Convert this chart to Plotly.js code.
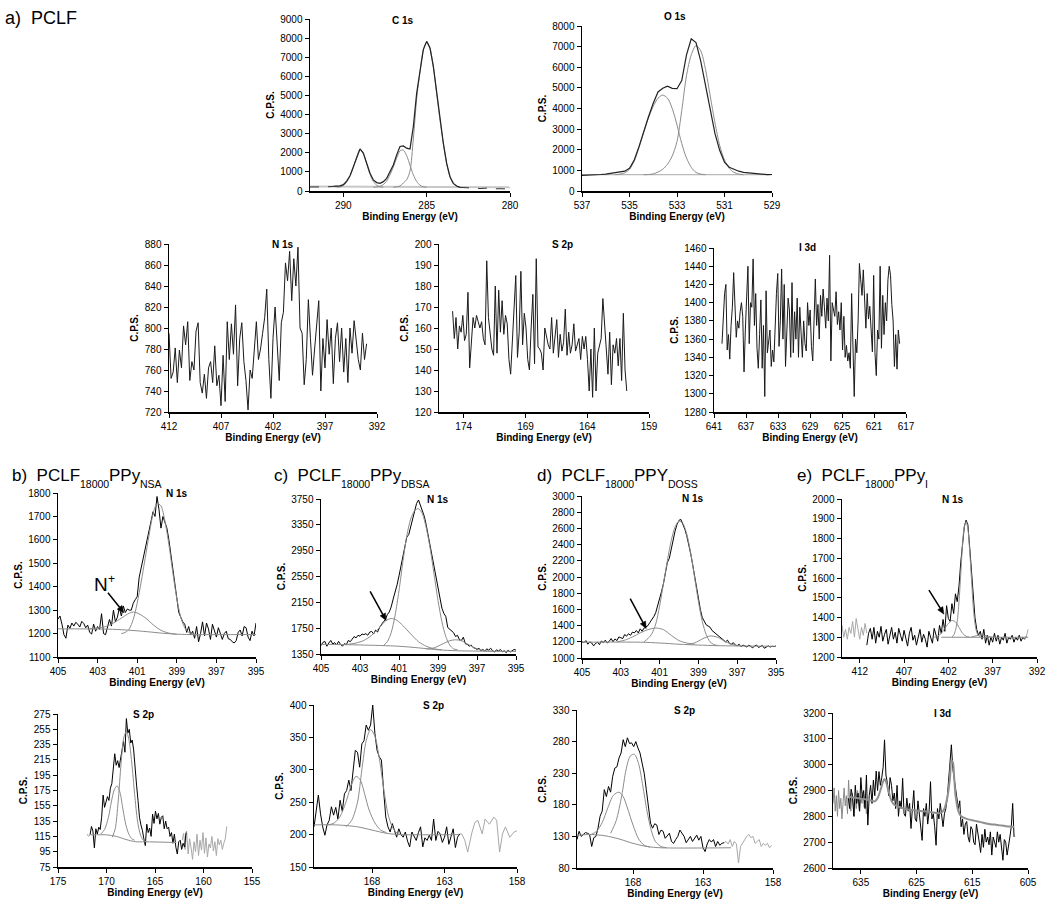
<!DOCTYPE html>
<html><head><meta charset="utf-8">
<script src="https://cdn.plot.ly/plotly-3.0.1.min.js"></script>
<style>html,body{margin:0;padding:0;background:#fff}#chart{width:1050px;height:912px}</style>
</head><body><div id="chart"></div>
<script>
// ===================== DATA (binding energy eV, counts per second) =====================
// --- a) PCLF  C 1s ---
const c1sRange = [290.6, 283.0];
const c1sCps = [240,260,270,330,520,800,1250,1800,2200,1980,1450,930,580,440,400,490,660,1010,1360,1890,2330,2360,2240,2200,3370,5120,6350,7400,7830,7480,6520,5120,3720,2500,1450,750,400,260,190];
const c1sTailLeft = [[292,210],[291.7,200],[291.4,190],[291.1,215],[290.8,230],[290.6,240]];
const c1sTailRight = [[283.0,190],[282.6,170],[282.2,150],[281.8,130],[281.4,150],[281.0,110],[280.6,120],[280.2,90],[280.0,100]];
const c1sPeakA = [[290.4,200],[290.2,215],[290.0,280],[289.8,470],[289.6,780],[289.4,1230],[289.2,1780],[289.0,2180],[288.8,1960],[288.6,1420],[288.4,880],[288.2,500],[288.0,300],[287.8,220],[287.6,200]];
const c1sPeakB = [[288.2,200],[288.0,210],[287.8,250],[287.6,340],[287.4,520],[287.2,850],[287.0,1250],[286.8,1720],[286.6,2100],[286.4,2140],[286.2,1850],[286.0,1350],[285.8,850],[285.6,500],[285.4,300],[285.2,220],[285.0,200]];
const c1sPeakC = [[287.0,200],[286.6,260],[286.4,420],[286.2,590],[286.0,1050],[285.8,2720],[285.6,4820],[285.4,6250],[285.2,7380],[285.0,7800],[284.8,7460],[284.6,6500],[284.4,5100],[284.2,3700],[284.0,2480],[283.8,1430],[283.6,740],[283.4,390],[283.2,250],[283.0,200]];
const c1sBackground = [[292,230],[286,215],[280,190]];

// --- a) PCLF  O 1s ---
const o1sRange = [537, 529];
const o1sCps = [760,770,750,780,800,820,850,880,900,960,1100,1500,2150,2900,3600,4250,4800,4980,5080,4980,4960,5350,6600,7380,7200,6300,5150,3900,2780,1960,1400,1150,1040,960,900,880,860,850,800,790,800];
const o1sPeakA = [[535.6,790],[535.4,820],[535.2,880],[535.0,1050],[534.8,1450],[534.6,2100],[534.4,2850],[534.2,3550],[534.0,4100],[533.8,4500],[533.6,4650],[533.4,4500],[533.2,4000],[533.0,3200],[532.8,2300],[532.6,1600],[532.4,1150],[532.2,900],[532.0,820],[531.8,790]];
const o1sPeakB = [[534.4,790],[534.2,800],[534.0,830],[533.8,920],[533.6,1050],[533.4,1300],[533.2,1700],[533.0,2400],[532.8,3900],[532.6,5600],[532.4,6600],[532.2,7050],[532.0,6800],[531.8,5900],[531.6,4600],[531.4,3300],[531.2,2200],[531.0,1500],[530.8,1100],[530.6,900],[530.4,820],[530.2,790]];
const o1sBackground = [[537,790],[529,790]];

// --- a) PCLF  N 1s ---
const pclfN1sRange = [412, 393];
const pclfN1sCps = [795,752,758,781,748,779,762,802,784,806,750,768,760,797,805,748,738,756,733,762,768,748,783,745,755,726,774,730,806,770,804,775,822,745,790,805,768,750,722,760,752,775,806,770,780,795,810,837,770,733,790,820,790,750,805,815,862,845,873,826,866,840,877,800,795,746,770,827,790,755,780,800,826,740,790,762,808,775,800,747,790,805,768,800,758,790,748,800,776,807,786,770,760,795,770,785];

// --- a) PCLF  S 2p ---
const pclfS2pRange = [174.9, 160.8];
const pclfS2pCps = [168,155,165,150,161,158,166,154,157,177,141,152,165,160,166,163,160,163,155,152,192,165,157,150,147,180,148,178,158,173,157,166,162,145,138,155,172,185,146,158,187,152,167,160,145,140,160,176,143,193,151,150,148,140,160,155,152,150,165,148,157,164,146,157,149,153,169,147,158,148,152,162,149,152,155,145,156,150,156,145,130,150,127,160,130,148,152,155,174,160,150,138,158,133,152,148,155,142,155,135,167,140,130];

// --- a) PCLF  I 3d ---
const pclfI3dRange = [640.0, 617.8];
const pclfI3dCps = [1355,1390,1410,1420,1348,1365,1338,1375,1395,1433,1400,1362,1380,1372,1390,1400,1385,1324,1370,1398,1440,1355,1400,1395,1448,1375,1410,1350,1328,1365,1403,1328,1375,1297,1413,1345,1360,1370,1330,1348,1335,1385,1410,1432,1352,1380,1437,1360,1420,1330,1365,1405,1392,1340,1422,1345,1390,1360,1405,1340,1395,1365,1340,1380,1355,1347,1400,1375,1392,1352,1336,1380,1426,1375,1398,1360,1408,1385,1415,1395,1372,1405,1380,1452,1336,1400,1393,1385,1412,1376,1390,1370,1400,1348,1385,1340,1353,1336,1345,1328,1410,1362,1297,1360,1345,1380,1443,1425,1408,1436,1395,1372,1410,1382,1396,1365,1346,1430,1345,1320,1370,1360,1440,1350,1408,1365,1400,1380,1425,1440,1430,1398,1380,1330,1365,1327,1370,1355];

// --- b) PCLF18000PPyNSA  N 1s ---
const nsaN1sRange = [405, 395];
const nsaN1sCps = [1262,1275,1240,1195,1180,1236,1222,1245,1232,1248,1240,1228,1252,1243,1225,1236,1205,1198,1240,1210,1230,1218,1285,1200,1195,1226,1260,1232,1300,1250,1270,1310,1275,1318,1290,1305,1300,1300,1329,1345,1357,1440,1480,1520,1560,1600,1640,1680,1720,1700,1785,1730,1650,1700,1670,1650,1600,1540,1470,1400,1340,1290,1270,1250,1240,1205,1230,1195,1210,1180,1230,1165,1200,1250,1190,1245,1220,1175,1240,1215,1185,1225,1195,1175,1200,1210,1178,1175,1165,1160,1170,1205,1215,1190,1230,1225,1185,1170,1210,1190,1245];
const nsaN1sMain = [[401.8,1200],[401.6,1205],[401.4,1220],[401.2,1260],[401.0,1330],[400.8,1420],[400.6,1520],[400.4,1620],[400.2,1710],[400.0,1755],[399.8,1745],[399.6,1680],[399.4,1580],[399.2,1460],[399.0,1350],[398.8,1270],[398.6,1225],[398.4,1205],[398.2,1198],[398.0,1197]];
const nsaN1sNplus = [[403.4,1221],[403.0,1224],[402.6,1230],[402.2,1245],[401.8,1266],[401.4,1287],[401.2,1292],[401.0,1288],[400.6,1268],[400.2,1238],[399.8,1214],[399.4,1202],[399.0,1197]];
const nsaN1sBackground = [[405,1220],[402.5,1219],[401.5,1215],[400.5,1208],[399.5,1200],[398.5,1196],[395,1196]];

// --- c) PCLF18000PPyDBSA  N 1s ---
const dbsaN1sRange = [405, 395];
const dbsaN1sCps = [1480,1530,1545,1470,1520,1560,1505,1525,1490,1545,1500,1470,1510,1495,1560,1540,1580,1620,1600,1640,1625,1660,1650,1665,1640,1690,1700,1660,1720,1690,1760,1810,1850,1880,1960,2000,2080,2200,2300,2420,2560,2700,2850,3000,3160,3200,3330,3450,3560,3680,3735,3650,3580,3480,3340,3180,3050,2880,2700,2520,2360,2200,2060,1980,1930,1760,1730,1700,1680,1620,1640,1570,1560,1610,1510,1500,1470,1490,1450,1440,1420,1440,1400,1420,1395,1430,1410,1440,1400,1380,1415,1395,1420,1385,1400,1370,1410,1380,1400,1420,1410];
const dbsaN1sMain = [[401.8,1480],[401.6,1540],[401.4,1680],[401.2,1950],[401.0,2330],[400.8,2780],[400.6,3180],[400.4,3440],[400.2,3570],[400.0,3600],[399.8,3520],[399.6,3300],[399.4,2980],[399.2,2580],[399.0,2180],[398.8,1850],[398.6,1620],[398.4,1490],[398.2,1430],[398.0,1415]];
const dbsaN1sNplus = [[403.6,1500],[403.2,1520],[402.8,1560],[402.4,1640],[402.0,1760],[401.7,1860],[401.4,1900],[401.1,1870],[400.8,1790],[400.4,1660],[400.0,1540],[399.6,1470],[399.2,1430],[398.8,1415]];
const dbsaN1sLow = [[399.6,1425],[399.2,1445],[398.8,1500],[398.4,1555],[398.1,1570],[397.8,1555],[397.4,1490],[397.0,1430],[396.6,1400],[396.2,1392]];
const dbsaN1sBackground = [[405,1500],[403,1490],[401,1470],[400,1445],[399,1415],[398,1400],[397,1395],[395,1390]];

// --- d) PCLF18000PPYDOSS  N 1s ---
const dossN1sRange = [405, 395];
const dossN1sCps = [1200,1190,1215,1170,1200,1185,1150,1180,1195,1165,1210,1190,1220,1185,1205,1240,1200,1235,1215,1260,1250,1240,1290,1270,1300,1280,1320,1310,1340,1310,1360,1330,1370,1390,1400,1440,1470,1510,1560,1640,1730,1820,1920,2060,2180,2230,2360,2480,2570,2650,2700,2710,2660,2590,2510,2410,2290,2160,2020,1870,1720,1600,1500,1450,1410,1395,1380,1340,1320,1290,1270,1250,1240,1210,1200,1220,1180,1170,1190,1160,1150,1170,1140,1160,1150,1135,1160,1145,1125,1150,1160,1130,1145,1155,1120,1140,1150,1135,1145,1140,1148];
const dossN1sMain = [[401.8,1200],[401.6,1240],[401.4,1300],[401.2,1420],[401.0,1640],[400.8,1920],[400.6,2200],[400.4,2450],[400.2,2620],[400.0,2690],[399.8,2660],[399.6,2530],[399.4,2300],[399.2,2000],[399.0,1700],[398.8,1450],[398.6,1290],[398.4,1200],[398.2,1165],[398.0,1155]];
const dossN1sNplus = [[403.2,1200],[402.8,1220],[402.4,1260],[402.0,1310],[401.6,1350],[401.2,1370],[400.8,1350],[400.4,1280],[400.0,1215],[399.6,1185],[399.2,1172]];
const dossN1sLow = [[399.6,1168],[399.2,1185],[398.8,1235],[398.4,1272],[398.0,1255],[397.6,1200],[397.2,1165],[396.8,1150]];
const dossN1sBackground = [[405,1195],[402,1195],[401,1185],[400,1170],[399,1160],[398,1152],[395,1145]];

// --- e) PCLF18000PPyI  N 1s ---
const iN1sEdgeRange = [414, 411.2];
const iN1sEdgeCps = [1360,1300,1340,1290,1350,1320,1380,1300,1395,1330,1290,1350,1310,1370,1320];
const iN1sRange = [411.2, 393.2];
const iN1sCps = [1260,1320,1345,1290,1350,1270,1330,1300,1355,1280,1315,1340,1265,1300,1350,1290,1325,1270,1345,1310,1280,1335,1295,1255,1320,1350,1285,1310,1260,1300,1340,1275,1315,1290,1250,1330,1300,1270,1345,1310,1280,1360,1320,1390,1330,1460,1395,1380,1470,1420,1520,1480,1560,1680,1780,1860,1893,1870,1760,1640,1500,1400,1340,1310,1330,1290,1340,1270,1310,1260,1300,1275,1320,1280,1310,1265,1300,1285,1320,1270,1300,1290,1310,1275,1300,1285,1310,1280,1300,1290,1305];
const iN1sTail = [[393.4,1290],[393.2,1305],[393.0,1340]];
const iN1sMain = [[401.6,1302],[401.4,1310],[401.2,1335],[401.0,1380],[400.8,1480],[400.6,1620],[400.4,1770],[400.2,1860],[400.0,1885],[399.8,1850],[399.6,1740],[399.4,1600],[399.2,1460],[399.0,1370],[398.8,1325],[398.6,1308],[398.4,1302]];
const iN1sNplus = [[403.6,1300],[403.2,1305],[402.8,1320],[402.4,1345],[402.0,1370],[401.6,1385],[401.2,1378],[400.8,1350],[400.4,1320],[400.0,1305],[399.6,1300]];
const iN1sLow = [[399.4,1301],[398.8,1308],[398.2,1312],[397.6,1306],[397.0,1300]];
const iN1sBackground = [[402.8,1300],[393.0,1300]];

// --- b) NSA  S 2p ---
const nsaS2pRange = [171.7, 161.8];
const nsaS2pCps = [117,128,122,100,125,118,127,124,140,169,153,160,167,162,178,184,200,223,208,214,205,218,230,239,225,269,250,255,237,241,228,200,182,162,140,130,123,112,103,131,120,126,115,144,132,148,138,145,131,140,142,125,135,125,127,115,120,106,118,101,92,108,110,98,106,101,120];
const nsaS2pEdge = [[172.0,118],[171.85,115],[171.7,117]];
const nsaS2pTailRange = [162.2, 157.6];
const nsaS2pTailCps = [110,119,98,122,92,112,100,85,108,95,118,90,110,97,120,93,113,88,105,100,115,96,108,90,112,104,110,98,106,112,128];
const nsaS2pBig = [[169.4,114],[169.1,125],[168.8,160],[168.5,210],[168.2,245],[167.95,252],[167.7,242],[167.4,212],[167.1,170],[166.8,135],[166.5,117],[166.2,110],[165.9,108]];
const nsaS2pSmall = [[170.6,118],[170.2,124],[169.8,140],[169.5,160],[169.2,176],[168.9,181],[168.6,172],[168.3,150],[168.0,130],[167.7,118],[167.4,112],[167.1,110]];
const nsaS2pBackground = [[171.6,117],[170.0,117],[169.0,115],[168.0,111],[167.0,108],[166.0,108],[162.8,107]];

// --- c) DBSA  S 2p ---
const dbsaS2pRange = [172.0, 161.95];
const dbsaS2pCps = [212,240,261,232,212,199,215,222,243,230,242,224,253,236,263,268,284,268,299,330,327,304,340,345,369,361,369,400,356,330,320,315,268,227,212,204,217,205,196,209,200,196,204,190,181,204,196,191,203,212,181,195,191,199,191,224,191,205,201,188,196,212,185,199,209,180,196,201];
const dbsaS2pTail = [[161.95,201],[161.8,201],[161.6,191],[161.4,173],[161.1,204],[160.9,219],[160.7,222],[160.4,201],[160.2,224],[159.9,216],[159.6,227],[159.4,222],[159.2,173],[159.0,201],[158.8,212],[158.5,196],[158.2,204],[158.0,206]];
const dbsaS2pBig = [[169.8,212],[169.4,222],[169.0,250],[168.7,300],[168.4,345],[168.1,362],[167.8,352],[167.5,318],[167.2,272],[166.9,232],[166.6,212],[166.3,203],[166.0,200]];
const dbsaS2pSmall = [[171.0,215],[170.6,218],[170.2,228],[169.8,250],[169.4,278],[169.1,290],[168.8,284],[168.5,262],[168.2,238],[167.8,218],[167.4,207],[167.0,203]];
const dbsaS2pBackground = [[172.0,215],[170.5,215],[169.0,212],[168.0,207],[167.0,202],[166.0,200],[162.0,200]];

// --- d) DOSS  S 2p ---
const dossS2pRange = [172.0, 161.5];
const dossS2pCps = [125,138,130,133,136,135,133,114,128,130,143,162,170,204,193,209,200,225,238,240,254,262,283,272,286,277,278,272,280,270,262,246,230,204,177,151,143,150,148,133,140,138,127,132,135,122,119,125,130,140,135,130,120,125,130,122,127,132,124,130,112,106,118,125,121,125,114,122,116,119,120];
const dossS2pTailRange = [161.5, 158.1];
const dossS2pTailCps = [120,122,118,125,114,122,118,88,114,120,125,130,133,128,130,119,122,125,114,119,116,119,112,116];
const dossS2pBig = [[169.6,135],[169.2,155],[168.8,195],[168.5,235],[168.2,257],[167.9,260],[167.6,245],[167.3,210],[167.0,170],[166.7,140],[166.4,122],[166.0,114],[165.6,112]];
const dossS2pSmall = [[171.0,133],[170.6,138],[170.2,152],[169.8,175],[169.4,195],[169.0,200],[168.7,193],[168.4,175],[168.0,148],[167.6,126],[167.2,116],[166.8,113]];
const dossS2pBackground = [[172,132],[171,133],[170,131],[169,126],[168,119],[167,114],[166,112],[161,112]];

// --- e) PPyI  I 3d ---
const iI3dEdgeRange = [640.0, 633.8];
const iI3dEdgeCps = [2850,2910,2820,2880,2800,2900,2830,2870,2790,2860,2910,2840,2880,2810,2940,2850,2820,2890,2845,2800,2870,2830,2900,2860,2820,2880,2850,2895,2835,2870,2810,2860];
const iI3dRange = [637.25, 607.5];
const iI3dCps = [2870,2830,2905,2880,2800,2920,2850,2890,2820,2950,2870,2900,2830,2960,2766,2880,2920,2850,2940,2880,2975,2900,2973,2920,2950,2990,3096,2960,2930,2880,2950,2920,2860,2890,2830,2920,2800,2860,2830,2947,2810,2800,2870,2820,2850,2753,2830,2900,2790,2780,2860,2810,2760,2707,2830,2800,2850,2770,2820,2934,2790,2810,2760,2688,2830,2790,2850,2800,2760,2810,2830,2870,2940,2990,3077,2985,2950,2900,2870,2830,2860,2760,2790,2730,2770,2780,2720,2700,2760,2750,2700,2690,2770,2740,2700,2660,2730,2680,2750,2700,2720,2690,2740,2650,2720,2700,2680,2740,2700,2730,2680,2630,2710,2700,2650,2680,2720,2760,2850,2720];
const iI3dFit = [[637.0,2875],[636.0,2872],[635.0,2868],[634.0,2865],[633.0,2860],[632.5,2858],[632.0,2870],[631.5,2900],[631.0,2935],[630.75,2945],[630.5,2935],[630.0,2895],[629.5,2860],[629.0,2845],[628.0,2835],[627.0,2828],[626.0,2825],[625.0,2822],[624.0,2820],[623.0,2818],[622.0,2815],[621.0,2812],[620.5,2815],[620.0,2830],[619.5,2870],[619.0,2950],[618.75,3015],[618.5,3010],[618.25,2950],[618.0,2880],[617.5,2820],[617.0,2800],[616.0,2790],[615.0,2785],[614.0,2780],[613.0,2775],[612.0,2770],[611.0,2768],[610.0,2765],[609.0,2762],[608.0,2760],[607.5,2760]];

// sample labels: runs of [text, isSubscript]
const sampleLabels = [
  [['a)\u00a0 PCLF', false]],
  [['b)\u00a0 PCLF', false], ['18000', true], ['PPy', false], ['NSA', true]],
  [['c)\u00a0 PCLF', false], ['18000', true], ['PPy', false], ['DBSA', true]],
  [['d)\u00a0 PCLF', false], ['18000', true], ['PPY', false], ['DOSS', true]],
  [['e)\u00a0 PCLF', false], ['18000', true], ['PPy', false], ['I', true]]
];

// ===================== DRAWING =====================
const W = 1050, H = 912;
const FONT = 'Liberation Sans, Arial, Helvetica, sans-serif';
const BLACK = '#000000', GREY = '#8c8c8c', LIGHT = '#a8a8a8';

function energies(range, n) {
  const out = [];
  for (let i = 0; i < n; i++) out.push(range[0] + (range[1] - range[0]) * i / (n - 1));
  return out;
}
const traces = [];
function ax(k) { return k === 1 ? '' : String(k); }
function series(k, range, cps, color, width) {
  traces.push({x: energies(range, cps.length), y: cps, xaxis: 'x' + ax(k), yaxis: 'y' + ax(k),
    type: 'scatter', mode: 'lines', line: {color: color, width: width || 1}, hoverinfo: 'skip', showlegend: false});
}
function curve(k, pts, color, width, opts) {
  opts = opts || {};
  traces.push({x: pts.map(p => p[0]), y: pts.map(p => p[1]), xaxis: 'x' + ax(k), yaxis: 'y' + ax(k),
    type: 'scatter', mode: 'lines',
    line: {color: color, width: width || 1, shape: opts.shape || 'spline', smoothing: 0.8, dash: opts.dash || 'solid'},
    hoverinfo: 'skip', showlegend: false});
}

// panel 1: C 1s
curve(1, c1sBackground, '#c8c8c8', 2, {shape: 'linear'});
curve(1, c1sPeakA, GREY, 1); curve(1, c1sPeakB, GREY, 1); curve(1, c1sPeakC, GREY, 1);
series(1, c1sRange, c1sCps, '#222', 1.2);
curve(1, c1sTailLeft, '#333', 1, {dash: 'dash', shape: 'linear'});
curve(1, c1sTailRight, '#333', 1, {dash: 'dash', shape: 'linear'});
// panel 2: O 1s
curve(2, o1sBackground, LIGHT, 1, {shape: 'linear'});
curve(2, o1sPeakA, GREY, 1); curve(2, o1sPeakB, GREY, 1);
series(2, o1sRange, o1sCps, '#222', 1.2);
// panel 3-5
series(3, pclfN1sRange, pclfN1sCps, '#1a1a1a', 1);
series(4, pclfS2pRange, pclfS2pCps, '#1a1a1a', 1);
series(5, pclfI3dRange, pclfI3dCps, '#1a1a1a', 1);
// panel 6: NSA N 1s
series(6, nsaN1sRange, nsaN1sCps, BLACK, 1);
curve(6, nsaN1sBackground, GREY, 1); curve(6, nsaN1sNplus, GREY, 1); curve(6, nsaN1sMain, GREY, 1);
// panel 7: DBSA N 1s
series(7, dbsaN1sRange, dbsaN1sCps, BLACK, 1);
curve(7, dbsaN1sBackground, GREY, 1); curve(7, dbsaN1sNplus, GREY, 1); curve(7, dbsaN1sMain, GREY, 1); curve(7, dbsaN1sLow, GREY, 1);
// panel 8: DOSS N 1s
series(8, dossN1sRange, dossN1sCps, BLACK, 1);
curve(8, dossN1sBackground, GREY, 1); curve(8, dossN1sNplus, GREY, 1); curve(8, dossN1sMain, GREY, 1); curve(8, dossN1sLow, GREY, 1);
// panel 9: I N 1s
series(9, iN1sEdgeRange, iN1sEdgeCps, LIGHT, 1);
series(9, iN1sRange, iN1sCps, BLACK, 1);
curve(9, iN1sTail, LIGHT, 1, {shape: 'linear'});
curve(9, iN1sBackground, GREY, 1, {shape: 'linear'}); curve(9, iN1sNplus, GREY, 1); curve(9, iN1sMain, GREY, 1); curve(9, iN1sLow, GREY, 1);
// panel 10: NSA S 2p
curve(10, nsaS2pEdge, LIGHT, 1, {shape: 'linear'});
series(10, nsaS2pTailRange, nsaS2pTailCps, LIGHT, 1);
series(10, nsaS2pRange, nsaS2pCps, BLACK, 1);
curve(10, nsaS2pBackground, GREY, 1); curve(10, nsaS2pSmall, GREY, 1); curve(10, nsaS2pBig, GREY, 1);
// panel 11: DBSA S 2p
curve(11, dbsaS2pTail, LIGHT, 1, {shape: 'linear'});
series(11, dbsaS2pRange, dbsaS2pCps, BLACK, 1);
curve(11, dbsaS2pBackground, GREY, 1); curve(11, dbsaS2pSmall, GREY, 1); curve(11, dbsaS2pBig, GREY, 1);
// panel 12: DOSS S 2p
series(12, dossS2pTailRange, dossS2pTailCps, LIGHT, 1);
series(12, dossS2pRange, dossS2pCps, BLACK, 1);
curve(12, dossS2pBackground, GREY, 1); curve(12, dossS2pSmall, GREY, 1); curve(12, dossS2pBig, GREY, 1);
// panel 13: I I 3d
series(13, iI3dEdgeRange, iI3dEdgeCps, '#8a8a8a', 1);
series(13, iI3dRange, iI3dCps, BLACK, 1);
curve(13, iI3dFit, '#8f8f8f', 2);

// panel geometry (pixels): [left, right, top, bottom]
const PANELS = [
  {box:[310,510,19,191],  xr:[292,280], xdt:5,  yr:[0,9000],    ydt:1000, name:'C 1s', nx:403, ny:21},
  {box:[582,772,26,191],  xr:[537,529], xdt:2,  yr:[0,8000],    ydt:1000, name:'O 1s', nx:675, ny:17},
  {box:[169,377,244,412], xr:[412,392], xdt:5,  yr:[720,880],   ydt:20,   name:'N 1s', nx:283, ny:244},
  {box:[439,649,244,412], xr:[176,159], xdt:5,  yr:[120,200],   ydt:10,   name:'S 2p', nx:562, ny:245},
  {box:[714,906,248,412], xr:[641,617], xdt:4,  yr:[1280,1460], ydt:20,   name:'I 3d', nx:807, ny:248},
  {box:[58,256,493,657],  xr:[405,395], xdt:2,  yr:[1100,1800], ydt:100,  name:'N 1s', nx:177, ny:494},
  {box:[321,516,499,654], xr:[405,395], xdt:2,  yr:[1350,3750], ydt:400,  name:'N 1s', nx:438, ny:499},
  {box:[582,776,496,658], xr:[405,395], xdt:2,  yr:[1000,3000], ydt:200,  name:'N 1s', nx:693, ny:498},
  {box:[842,1037,499,657],xr:[414,392], xdt:5,  yr:[1200,2000], ydt:100,  name:'N 1s', nx:953, ny:499},
  {box:[58,252,714,867],  xr:[175,155], xdt:5,  yr:[75,275],    ydt:20,   name:'S 2p', nx:143, ny:714},
  {box:[314,517,705,867], xr:[172,158], xdt:5,  yr:[150,400],   ydt:50,   name:'S 2p', nx:433, ny:705},
  {box:[577,773,710,868], xr:[172,158], xdt:5,  yr:[80,330],    ydt:50,   name:'S 2p', nx:684, ny:710},
  {box:[833,1028,713,868],xr:[640,605], xdt:10, yr:[2600,3200], ydt:100,  name:'I 3d', nx:942, ny:713}
];

const layout = {
  width: W, height: H, margin: {l:0, r:0, t:0, b:0},
  paper_bgcolor: '#fff', plot_bgcolor: 'rgba(0,0,0,0)',
  font: {family: FONT, color: '#000', size: 10},
  showlegend: false, annotations: [], shapes: []
};
PANELS.forEach((p, i) => {
  const k = i + 1, s = ax(k);
  const common = {showline: true, linecolor: '#000', linewidth: 1.5, ticks: 'outside', ticklen: 4, tickwidth: 1,
    tickcolor: '#000', showgrid: false, zeroline: false, autorange: false, fixedrange: true,
    tickfont: {family: FONT, size: 10, color: '#000'}};
  layout['xaxis' + s] = Object.assign({}, common, {
    domain: [p.box[0] / W, p.box[1] / W], anchor: 'y' + s, range: p.xr,
    tick0: Math.min(p.xr[0], p.xr[1]), dtick: p.xdt,
    title: {text: 'Binding Energy (eV)', font: {family: FONT, size: 10, weight: 'bold', color: '#000'}, standoff: 1}
  });
  layout['yaxis' + s] = Object.assign({}, common, {
    domain: [1 - p.box[3] / H, 1 - p.box[2] / H], anchor: 'x' + s, range: p.yr,
    tick0: p.yr[0], dtick: p.ydt,
    title: {text: 'C.P.S.', font: {family: FONT, size: 10, weight: 'bold', color: '#000'}, standoff: 4}
  });
  layout.annotations.push({xref: 'paper', yref: 'paper', x: p.nx / W, y: 1 - p.ny / H, text: '<b>' + p.name + '</b>',
    showarrow: false, xanchor: 'center', yanchor: 'middle', font: {family: FONT, size: 10, color: '#000'}});
});

// text-run layout: subscripts as separate smaller texts, placed by widths measured with SVG text (same engine as Plotly)
const SVGNS = 'http://www.w3.org/2000/svg';
const measureSvg = document.createElementNS(SVGNS, 'svg');
measureSvg.setAttribute('width', '0'); measureSvg.setAttribute('height', '0');
measureSvg.style.position = 'absolute'; measureSvg.style.left = '-9999px';
document.body.appendChild(measureSvg);
const measureText = document.createElementNS(SVGNS, 'text');
measureSvg.appendChild(measureText);
function textWidth(t, size) {
  measureText.setAttribute('style', 'font-family:' + FONT + ';font-size:' + size + 'px;white-space:pre');
  measureText.textContent = t;
  return measureText.getComputedTextLength();
}
function placeRuns(runs, x0, yMid, mainSize, subSize, subDrop) {
  let x = x0;
  runs.forEach(r => {
    const sub = r[1], size = sub ? subSize : mainSize;
    layout.annotations.push({xref: 'paper', yref: 'paper', x: x / W, y: 1 - (yMid + (sub ? subDrop : 0)) / H,
      text: r[0], showarrow: false, xanchor: 'left', yanchor: 'middle', borderpad: 0, borderwidth: 0,
      font: {family: FONT, size: size, color: '#000'}});
    x += textWidth(r[0], size);
  });
}
const LABEL_POS = [[5, 18, 18], [12, 476, 17], [274, 476, 17], [537, 476, 17], [797, 476, 17]];
sampleLabels.forEach((runs, i) => placeRuns(runs, LABEL_POS[i][0], LABEL_POS[i][1], LABEL_POS[i][2], 10.5, 8));
measureSvg.remove();

// N+ label (N with raised +)
layout.annotations.push({xref: 'x6', yref: 'y6', x: 402.4, y: 1410, text: 'N', showarrow: false, xanchor: 'right',
  yanchor: 'middle', borderpad: 0, font: {family: FONT, size: 19, color: '#000'}});
layout.annotations.push({xref: 'x6', yref: 'y6', x: 402.4, y: 1410, xshift: -2, yshift: 5, text: '+', showarrow: false,
  xanchor: 'left', yanchor: 'middle', borderpad: 0, font: {family: FONT, size: 12, color: '#000'}});

// arrows pointing at the N+ component: head anchored on the data, tail offset in pixels (dx right, dy up)
const ARROWS = [
  {k: 6, x: 401.67, y: 1289, dx: -16, dy: 20},
  {k: 7, x: 401.66, y: 1869, dx: -16, dy: 29},
  {k: 8, x: 401.69, y: 1363, dx: -16, dy: 30},
  {k: 9, x: 402.5,  y: 1417, dx: -15, dy: 24}
];
ARROWS.forEach(a => {
  const L = Math.hypot(a.dx, a.dy), ux = -a.dx / L, uy = -a.dy / L;
  const hl = 7, hw = 3;
  const bx = -ux * hl, by = -uy * hl;
  const px = -uy * hw, py = ux * hw;
  const base = {type: 'path', xref: 'x' + ax(a.k), yref: 'y' + ax(a.k), xsizemode: 'pixel', ysizemode: 'pixel',
    xanchor: a.x, yanchor: a.y};
  layout.shapes.push(Object.assign({}, base, {path: `M ${a.dx},${a.dy} L ${bx.toFixed(2)},${by.toFixed(2)}`,
    line: {color: '#000', width: 1.5}}));
  layout.shapes.push(Object.assign({}, base, {
    path: `M 0,0 L ${(bx + px).toFixed(2)},${(by + py).toFixed(2)} L ${(bx - px).toFixed(2)},${(by - py).toFixed(2)} Z`,
    fillcolor: '#000', line: {color: '#000', width: 0.5}}));
});

Plotly.newPlot('chart', traces, layout, {displayModeBar: false, staticPlot: true});
</script>
</body></html>
